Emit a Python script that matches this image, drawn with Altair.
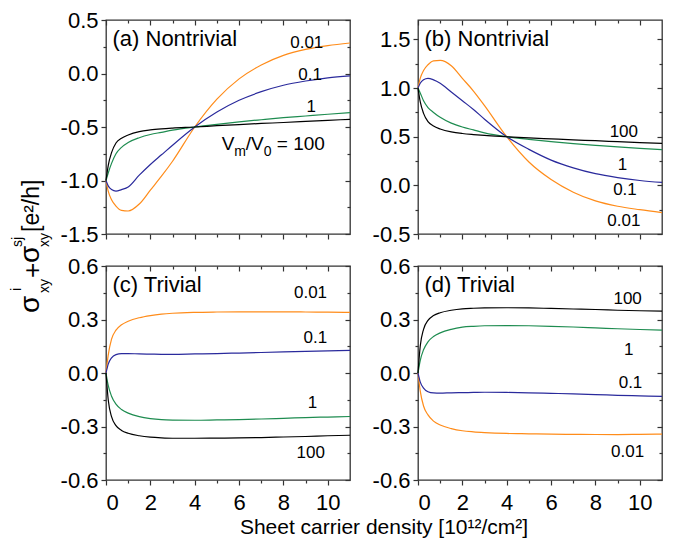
import altair as alt
import pandas as pd

FONT = "Liberation Sans"
FRAME = "#333333"

X = [0, 0.1, 0.25, 0.45, 0.7, 1, 1.5, 2, 2.5, 3, 4, 5, 6, 7, 8, 9, 10, 11]
SERIES = ["0.01", "0.1", "1", "100"]
COLORS = ["#ff8c1a", "#2a2a9c", "#1e8c50", "#000000"]

XMAJ = [0, 2, 4, 6, 8, 10]
XMIN = [1, 3, 5, 7, 9]

# (a) Nontrivial
A_001 = [-1.0, -1.10, -1.18, -1.24, -1.28, -1.285, -1.22, -1.09, -0.96, -0.82, -0.50, -0.24, -0.05, 0.08, 0.17, 0.225, 0.26, 0.285]
A_01 = [-1.0, -1.05, -1.085, -1.10, -1.085, -1.06, -0.95, -0.85, -0.76, -0.67, -0.50, -0.36, -0.25, -0.17, -0.11, -0.07, -0.04, -0.022]
A_1 = [-1.0, -0.93, -0.84, -0.75, -0.69, -0.645, -0.60, -0.57, -0.55, -0.53, -0.50, -0.475, -0.452, -0.432, -0.413, -0.397, -0.381, -0.366]
A_100 = [-1.0, -0.86, -0.74, -0.65, -0.605, -0.575, -0.543, -0.527, -0.517, -0.51, -0.50, -0.488, -0.477, -0.467, -0.458, -0.448, -0.438, -0.428]

# (b) Nontrivial
B_001 = [1.0, 1.10, 1.18, 1.24, 1.28, 1.285, 1.23, 1.10, 0.97, 0.82, 0.50, 0.24, 0.06, -0.07, -0.16, -0.215, -0.25, -0.28]
B_01 = [1.0, 1.05, 1.085, 1.10, 1.085, 1.05, 0.96, 0.87, 0.78, 0.68, 0.50, 0.37, 0.26, 0.18, 0.12, 0.08, 0.05, 0.03]
B_1 = [1.0, 0.95, 0.87, 0.80, 0.75, 0.70, 0.64, 0.60, 0.57, 0.54, 0.50, 0.473, 0.45, 0.43, 0.412, 0.395, 0.38, 0.368]
B_100 = [1.0, 0.86, 0.74, 0.655, 0.61, 0.58, 0.55, 0.533, 0.522, 0.513, 0.50, 0.488, 0.478, 0.468, 0.459, 0.449, 0.44, 0.432]

# (c) Trivial
C_001 = [0.0, 0.10, 0.19, 0.24, 0.27, 0.29, 0.31, 0.322, 0.33, 0.335, 0.34, 0.342, 0.343, 0.343, 0.343, 0.342, 0.341, 0.34]
C_01 = [0.0, 0.05, 0.085, 0.103, 0.109, 0.109, 0.107, 0.106, 0.105, 0.105, 0.107, 0.109, 0.112, 0.115, 0.118, 0.121, 0.124, 0.127]
C_1 = [0.0, -0.07, -0.13, -0.175, -0.205, -0.225, -0.245, -0.256, -0.262, -0.264, -0.265, -0.263, -0.261, -0.258, -0.254, -0.25, -0.247, -0.244]
C_100 = [0.0, -0.15, -0.245, -0.295, -0.322, -0.338, -0.352, -0.36, -0.364, -0.366, -0.366, -0.365, -0.364, -0.362, -0.359, -0.356, -0.352, -0.349]

# (d) Trivial
D_001 = [0.0, -0.10, -0.185, -0.235, -0.27, -0.292, -0.312, -0.324, -0.33, -0.334, -0.339, -0.341, -0.343, -0.344, -0.345, -0.345, -0.344, -0.343]
D_01 = [0.0, -0.05, -0.085, -0.105, -0.112, -0.113, -0.111, -0.11, -0.109, -0.108, -0.109, -0.111, -0.114, -0.117, -0.121, -0.125, -0.128, -0.131]
D_1 = [0.0, 0.07, 0.13, 0.175, 0.205, 0.225, 0.245, 0.257, 0.262, 0.265, 0.266, 0.265, 0.262, 0.258, 0.253, 0.248, 0.244, 0.24]
D_100 = [0.0, 0.15, 0.245, 0.295, 0.322, 0.338, 0.352, 0.36, 0.363, 0.365, 0.366, 0.365, 0.362, 0.359, 0.356, 0.352, 0.349, 0.347]

# curve labels: (x, y, text)
LAB_A = [(9.05, 0.235, "0.01"), (9.2, -0.06, "0.1"), (9.25, -0.357, "1")]
LAB_B = [(9.28, 0.494, "100"), (9.22, 0.159, "1"), (9.33, -0.097, "0.1"), (9.28, -0.42, "0.01")]
LAB_C = [(9.22, 0.42, "0.01"), (9.44, 0.169, "0.1"), (9.31, -0.197, "1"), (9.23, -0.478, "100")]
LAB_D = [(9.45, 0.388, "100"), (9.5, 0.103, "1"), (9.58, -0.084, "0.1"), (9.45, -0.469, "0.01")]

W, H = 244, 214


def long_df(vals):
    rows = []
    for s, v in zip(SERIES, vals):
        for xx, yy in zip(X, v):
            rows.append({"x": xx, "y": yy, "s": s})
    return pd.DataFrame(rows)


def ticks_axis(values, size, orient, labels=False, fmt=None):
    kw = dict(values=values, orient=orient, grid=False, domain=False,
              tickColor=FRAME, tickWidth=1.2, title=None, labels=labels)
    if size >= 0:
        kw["tickSize"] = size
    else:
        kw["tickSize"] = alt.ExprRef(expr=str(size))
    if labels:
        kw.update(labelFont=FONT, labelFontSize=22, labelColor="black")
        if fmt == "y":
            kw["labelExpr"] = "(datum.value < 0 ? '-' : '') + format(abs(datum.value), '.1f')"
            kw["labelPadding"] = 3
        else:
            kw["labelExpr"] = "format(datum.value, 'd')"
            kw["labelPadding"] = 7
    return alt.Axis(**kw)


def txt(text, x, y, size, angle=0, align="left"):
    return alt.Chart(pd.DataFrame({"t": [text]})).mark_text(
        font=FONT, fontSize=size, angle=angle, align=align, baseline="alphabetic", color="black"
    ).encode(x=alt.value(x), y=alt.value(y), text="t:N")


def panel(vals, ydom, ymaj, ymin, title, labels, show_x, extra=()):
    df = long_df(vals)
    xs = alt.Scale(domain=[0, 11], nice=False, zero=False)
    ys = alt.Scale(domain=ydom, nice=False, zero=False)
    col = alt.Color("s:N", scale=alt.Scale(domain=SERIES, range=COLORS), legend=None)

    def hidden(xa, ya):
        return alt.Chart(df).mark_line(strokeOpacity=0).encode(
            x=alt.X("x:Q", scale=xs, axis=xa), y=alt.Y("y:Q", scale=ys, axis=ya), detail="s:N")

    lines = alt.Chart(df).mark_line(strokeWidth=1.2, interpolate="monotone").encode(
        x=alt.X("x:Q", scale=xs, axis=ticks_axis(XMAJ, 5, "bottom", labels=show_x, fmt="x")),
        y=alt.Y("y:Q", scale=ys, axis=ticks_axis(ymaj, 5, "left", labels=True, fmt="y")),
        color=col,
    )
    l2 = hidden(ticks_axis(XMIN, 3, "bottom"), ticks_axis(ymin, 3, "left"))
    l3 = hidden(ticks_axis(XMAJ, -5, "top"), ticks_axis(ymaj, -5, "right"))
    l4 = hidden(ticks_axis(XMIN, -3, "top"), ticks_axis(ymin, -3, "right"))

    ldf = pd.DataFrame(labels, columns=["x", "y", "t"])
    curve_labels = alt.Chart(ldf).mark_text(
        font=FONT, fontSize=17, align="center", baseline="alphabetic", color="black"
    ).encode(x=alt.X("x:Q", scale=xs, axis=None), y=alt.Y("y:Q", scale=ys, axis=None), text="t:N")

    ttl = txt(title, 6.5, 26, 22)
    layers = [l2, l3, l4, lines, curve_labels, ttl] + list(extra)
    return alt.layer(*layers).resolve_axis(x="independent", y="independent").properties(width=W, height=H)


# V_m/V_0 = 100 label in panel (a), anchored in data coordinates
VM_X, VM_Y = 5.22, -0.715


def vm_piece(text, size, dx, dy):
    d = pd.DataFrame({"x": [VM_X], "y": [VM_Y], "t": [text]})
    return alt.Chart(d).mark_text(
        font=FONT, fontSize=size, align="left", baseline="alphabetic", color="black", dx=dx, dy=dy
    ).encode(x=alt.X("x:Q", scale=alt.Scale(domain=[0, 11], nice=False), axis=None),
             y=alt.Y("y:Q", scale=alt.Scale(domain=[-1.5, 0.5], nice=False), axis=None),
             text="t:N")


vm = [
    vm_piece("V", 19, 0, 0),
    vm_piece("m", 14, 12.5, 6),
    vm_piece("/V", 19, 24, 0),
    vm_piece("0", 14, 42, 6),
    vm_piece("= 100", 19, 55, 0),
]

# y axis title pieces (relative to panel (a) origin)
ytitle = [
    txt("σ", -67, 293, 28, angle=270),
    txt("i", -85, 271, 14, angle=270),
    txt("xy", -57, 273, 14, angle=270),
    txt("+", -65, 258, 26, angle=270),
    txt("σ", -67, 243, 28, angle=270),
    txt("sj", -84, 227, 14, angle=270),
    txt("xy", -57, 227, 14, angle=270),
    txt("[e²/h]", -67, 212, 23, angle=270),
]

xtitle = [txt("Sheet carrier density [10¹²/cm²]", 278, 268, 21, align="center")]

pa = panel([A_001, A_01, A_1, A_100], [-1.5, 0.5], [-1.5, -1.0, -0.5, 0.0, 0.5], [-1.25, -0.75, -0.25, 0.25],
           "(a) Nontrivial", LAB_A, False, extra=vm + ytitle)
pb = panel([B_001, B_01, B_1, B_100], [-0.5, 1.7], [-0.5, 0.0, 0.5, 1.0, 1.5], [-0.25, 0.25, 0.75, 1.25],
           "(b) Nontrivial", LAB_B, False)
pc = panel([C_001, C_01, C_1, C_100], [-0.6, 0.6], [-0.6, -0.3, 0.0, 0.3, 0.6], [-0.45, -0.15, 0.15, 0.45],
           "(c) Trivial", LAB_C, True, extra=xtitle)
pd_ = panel([D_001, D_01, D_1, D_100], [-0.6, 0.6], [-0.6, -0.3, 0.0, 0.3, 0.6], [-0.45, -0.15, 0.15, 0.45],
            "(d) Trivial", LAB_D, True)

chart = alt.ConcatChart(
    concat=[pa, pb, pc, pd_], columns=2,
    spacing=alt.RowColnumber(row=32, column=68), bounds="flush",
).properties(
    padding={"left": 1, "top": 0, "right": 5, "bottom": 5}, background="white"
).configure_view(stroke=FRAME, strokeWidth=1.3)

chart.save("out.html", embed_options={"renderer": "svg", "actions": False})
